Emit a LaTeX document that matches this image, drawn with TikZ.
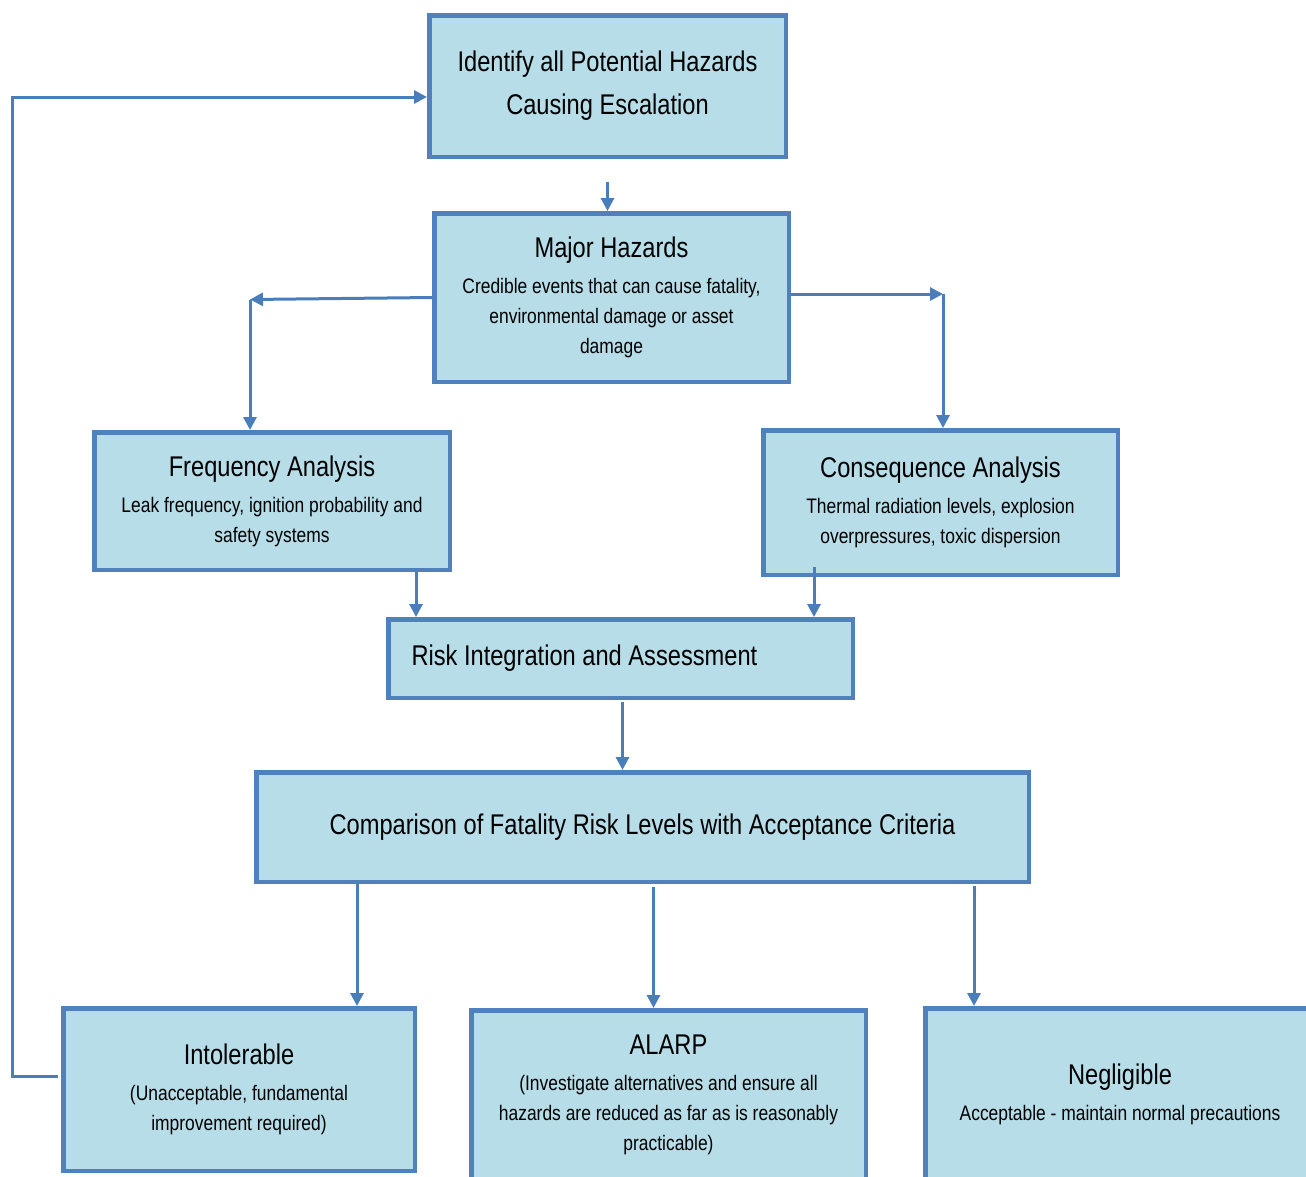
\documentclass[tikz,border=0pt]{standalone}
\usepackage{fontspec}
\setmainfont{Liberation Sans}[FakeStretch=0.83]
\usetikzlibrary{arrows.meta}

\definecolor{boxfill}{HTML}{B7DDE8}
\definecolor{boxline}{HTML}{4F81BD}
\definecolor{arrline}{HTML}{4A7EBB}

\newcommand\ttlfont{\fontsize{28.5}{43}\selectfont}
\newcommand\subfont{\fontsize{21}{30}\selectfont}

\begin{document}
\begin{tikzpicture}[
  x=1pt, y=-1pt,
  box/.style  = {draw=boxline, fill=boxfill, line width=4.5pt, inner sep=0pt, align=center, font=\subfont},
  arr/.style  = {draw=arrline, line width=3pt, -{Triangle[length=13pt, width=13pt]}},
]
\useasboundingbox (0,0) rectangle (1306,1176);

\def\fbx{12}     % x of the feedback line
\def\brleft{250} % x of the left branch
\def\brright{943}% x of the right branch

% ---- boxes -----------------------------------------------------------------
\node[box, font=\ttlfont, minimum width=356.5pt, minimum height=141.5pt] (ident) at (607.5, 86)
  {Identify all Potential Hazards\\Causing Escalation};

\node[box, minimum width=354.5pt, minimum height=168.5pt] (major) at (611.5, 297.5)
  {{\ttlfont Major Hazards}\\[6pt]Credible events that can cause fatality,\\environmental damage or asset\\damage};

\node[box, minimum width=355.5pt, minimum height=137.5pt] (freq) at (272, 501)
  {{\ttlfont Frequency Analysis}\\[6pt]Leak frequency, ignition probability and\\safety systems};

\node[box, minimum width=354.5pt, minimum height=144.5pt] (conseq) at (940.5, 502.5)
  {{\ttlfont Consequence Analysis}\\[6pt]Thermal radiation levels, explosion\\overpressures, toxic dispersion};

\node[box, font=\ttlfont, align=flush left, text width=418pt, minimum width=464.5pt, minimum height=78.5pt] (risk) at (620.5, 658.5)
  {Risk Integration and Assessment};

\node[box, font=\ttlfont, minimum width=772.5pt, minimum height=109.5pt] (comp) at (642.5, 827)
  {Comparison of Fatality Risk Levels with Acceptance Criteria};

\node[box, minimum width=351.5pt, minimum height=162.5pt] (intol) at (239, 1089.5)
  {{\ttlfont Intolerable}\\[6pt](Unacceptable, fundamental\\improvement required)};

\node[box, minimum width=394.5pt, minimum height=169.5pt] (alarp) at (668.5, 1095)
  {{\ttlfont ALARP}\\[6pt](Investigate alternatives and ensure all\\hazards are reduced as far as is reasonably\\practicable)};

\node[box, minimum width=389.5pt, minimum height=171.5pt] (neglig) at (1120, 1094)
  {{\ttlfont Negligible}\\[6pt]Acceptable - maintain normal precautions};

% ---- branch corners --------------------------------------------------------
\coordinate (cleft)  at (\brleft, 299.5);
\coordinate (cright) at (\brright, 294);
\coordinate (fb)     at (\fbx, 0);

% ---- connectors ------------------------------------------------------------
\draw[arr, shorten <=23pt] (ident.south) -- (ident.south |- major.north);

\draw[arr] (major.west) -- (cleft);
\draw[arr] (cleft) -- (cleft |- freq.north);
\draw[arr] (major.east |- cright) -- (cright);
\draw[arr] (cright) -- (cright |- conseq.north);

\draw[arr] ([xshift=144pt]freq.south) -- ([xshift=144pt]freq.south |- risk.north);
\draw[arr] ([xshift=-126.5pt, yshift=10pt]conseq.south) -- ([xshift=-126.5pt]conseq.south |- risk.north);

\draw[arr, shorten <=2pt] ([xshift=2pt]risk.south) -- ([xshift=2pt]risk.south |- comp.north);

\draw[arr] ([xshift=-285.5pt]comp.south) -- ([xshift=-285.5pt]comp.south |- intol.north);
\draw[arr, shorten <=3pt] ([xshift=11pt]comp.south) -- ([xshift=11pt]comp.south |- alarp.north);
\draw[arr, shorten <=2pt] ([xshift=331.5pt]comp.south) -- ([xshift=331.5pt]comp.south |- neglig.north);

% ---- feedback loop ---------------------------------------------------------
\draw[arr, shorten <=3pt] ([yshift=13.5pt]intol.west) -- ([yshift=13.5pt]intol.west -| fb)
  |- ([yshift=-11pt]ident.west);

\end{tikzpicture}
\end{document}
